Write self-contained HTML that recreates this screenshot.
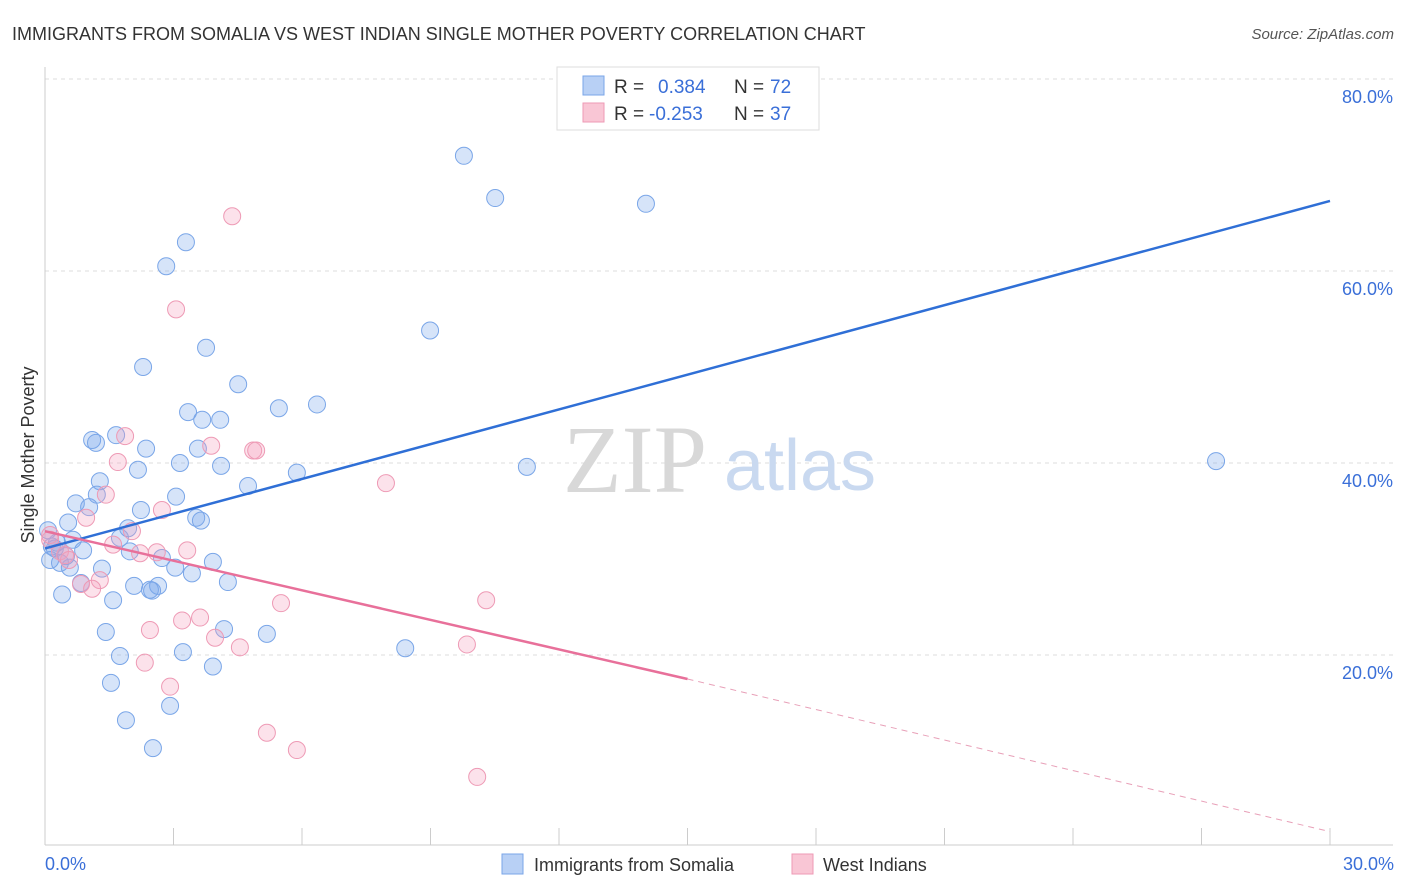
<!DOCTYPE html>
<html><head><meta charset="utf-8"><style>
body{margin:0;background:#fff;font-family:"Liberation Sans",sans-serif;}
svg{display:block}
</style></head><body>
<svg id="chart" width="1406" height="892">
<text x="12" y="40" font-size="18" fill="#333">IMMIGRANTS FROM SOMALIA VS WEST INDIAN SINGLE MOTHER POVERTY CORRELATION CHART</text>
<text x="1394" y="39" font-size="15" fill="#555" font-style="italic" text-anchor="end">Source: ZipAtlas.com</text>
<g id="grid"></g>
<text x="635" y="492" font-size="96" fill="#d8d8d8" text-anchor="middle" font-family="Liberation Serif,serif">ZIP</text>
<text x="800" y="490" font-size="72" fill="#c9d9f0" text-anchor="middle">atlas</text>
<g id="axes"></g>
<g id="points"></g>
<g id="lines"></g>
<text transform="translate(34,455) rotate(-90)" font-size="18" fill="#333" text-anchor="middle">Single Mother Poverty</text>
<text x="45" y="870" font-size="18" fill="#3a6fd8">0.0%</text>
<text x="1394" y="870" font-size="18" fill="#3a6fd8" text-anchor="end">30.0%</text>
<g>
<rect x="557" y="67" width="262" height="63" fill="#fff" stroke="#ddd"/>
<rect x="583" y="76" width="21" height="19" fill="#b8d0f5" stroke="#7aa6e8"/>
<rect x="583" y="103" width="21" height="19" fill="#f9c6d5" stroke="#ee9ab5"/>
<text x="614" y="93" font-size="19" fill="#333">R = </text>
<text x="658" y="93" font-size="19" fill="#3a6fd8">0.384</text>
<text x="734" y="93" font-size="19" fill="#333">N = </text>
<text x="770" y="93" font-size="19" fill="#3a6fd8">72</text>
<text x="614" y="120" font-size="19" fill="#333">R = </text>
<text x="649" y="120" font-size="19" fill="#3a6fd8">-0.253</text>
<text x="734" y="120" font-size="19" fill="#333">N = </text>
<text x="770" y="120" font-size="19" fill="#3a6fd8">37</text>
</g>
<g>
<rect x="502" y="854" width="21" height="20" fill="#b8d0f5" stroke="#7aa6e8"/>
<text x="534" y="871" font-size="18" fill="#333">Immigrants from Somalia</text>
<rect x="792" y="854" width="21" height="20" fill="#f9c6d5" stroke="#ee9ab5"/>
<text x="823" y="871" font-size="18" fill="#333">West Indians</text>
</g>
</svg>
<script>
const blueX=[9.78,10.51,14.03,3.29,2.83,8.99,3.76,2.29,4.51,3.34,3.67,4.09,5.46,6.35,1.10,1.19,1.66,2.36,3.57,3.15,4.11,2.17,5.88,11.25,27.34,1.28,4.74,1.21,3.06,0.72,1.03,2.24,3.53,3.64,0.54,1.94,1.75,0.65,0.28,0.16,0.89,1.98,2.73,3.92,0.12,0.35,0.58,3.04,3.43,1.33,0.84,4.27,2.08,2.64,2.50,0.40,1.59,4.18,5.18,1.42,8.41,3.22,1.75,3.92,1.54,2.92,1.89,2.52,0.07,0.23,0.49,2.45];
const blueY=[72.0,67.6,67.0,63.0,60.5,53.8,52.0,50.0,48.2,45.3,44.5,44.5,45.7,46.1,42.4,42.1,42.9,41.5,41.5,40.0,39.7,39.3,39.0,39.6,40.2,38.1,37.6,36.7,36.5,35.8,35.4,35.1,34.3,34.0,33.8,33.2,32.2,32.0,31.7,31.3,30.9,30.8,30.1,29.7,29.9,29.6,29.1,29.1,28.5,29.0,27.5,27.6,27.2,27.2,26.7,26.3,25.7,22.7,22.2,22.4,20.7,20.3,19.9,18.8,17.1,14.7,13.2,10.3,33.0,31.1,30.3,26.8];
const pinkX=[4.37,3.06,1.87,3.88,4.86,4.93,1.70,7.96,1.42,0.96,2.73,2.03,0.12,1.59,2.61,3.32,2.22,0.35,0.47,0.56,1.28,0.84,1.10,5.51,10.30,3.20,3.62,2.45,3.97,4.55,9.85,2.33,2.92,5.18,5.88,10.09,0.12];
const pinkY=[65.7,56.0,42.8,41.8,41.3,41.3,40.1,37.9,36.7,34.3,35.1,32.9,32.0,31.5,30.7,30.9,30.6,30.8,30.4,29.9,27.8,27.4,26.9,25.4,25.7,23.6,23.9,22.6,21.8,20.8,21.1,19.2,16.7,11.9,10.1,7.3,32.5];
const yTicks=[20,40,60,80];
const blueTrend=[31.1,67.3];
const pinkTrend=[32.9,17.5,1.6];
const xs=v=>45+v*(1285/30), ys=v=>847-v*9.6;
const NS="http://www.w3.org/2000/svg";
function mk(t,a,p){const e=document.createElementNS(NS,t);for(const k in a)e.setAttribute(k,a[k]);p.appendChild(e);return e;}
const grid=document.getElementById('grid'),axes=document.getElementById('axes'),pts=document.getElementById('points'),lines=document.getElementById('lines');
yTicks.forEach(v=>{
 const l=mk('line',{x1:45,x2:1393,y1:ys(v),y2:ys(v),stroke:'#ddd','stroke-dasharray':'4,4'},grid);
 
 
 const t=mk('text',{x:1393,y:ys(v)+24,'font-size':18,fill:'#3a6fd8','text-anchor':'end'},grid);
 t.textContent=v.toFixed(1)+'%';
 
 
});
mk('line',{x1:45,x2:45,y1:67,y2:845,stroke:'#ccc'},axes);
mk('line',{x1:45,x2:1393,y1:845,y2:845,stroke:'#ccc'},axes);
for(let i=1;i<=10;i++){const tk=mk('line',{x1:xs(i*3),x2:xs(i*3),y1:828,y2:845,stroke:'#ccc'},axes);
 
 }
blueX.forEach((x,i)=>{const c=mk('circle',{cx:xs(x),cy:ys(blueY[i]),r:8.5,fill:'rgba(120,165,235,0.3)',stroke:'#7aa6e8','stroke-width':1},pts);
 
 });
pinkX.forEach((x,i)=>{const c=mk('circle',{cx:xs(x),cy:ys(pinkY[i]),r:8.5,fill:'rgba(245,160,190,0.3)',stroke:'#ee9ab5','stroke-width':1},pts);
 
 });
const bl=mk('line',{x1:xs(0),y1:ys(blueTrend[0]),x2:xs(30),y2:ys(blueTrend[1]),stroke:'#2f6fd6','stroke-width':2.5},lines);


const pl=mk('line',{x1:xs(0),y1:ys(pinkTrend[0]),x2:xs(15),y2:ys(pinkTrend[1]),stroke:'#e8709a','stroke-width':2.5},lines);


const pd=mk('line',{x1:xs(15),y1:ys(pinkTrend[1]),x2:xs(30),y2:ys(pinkTrend[2]),stroke:'#e8a0b8','stroke-width':1,'stroke-dasharray':'6,5'},lines);


</script>
</body></html>
